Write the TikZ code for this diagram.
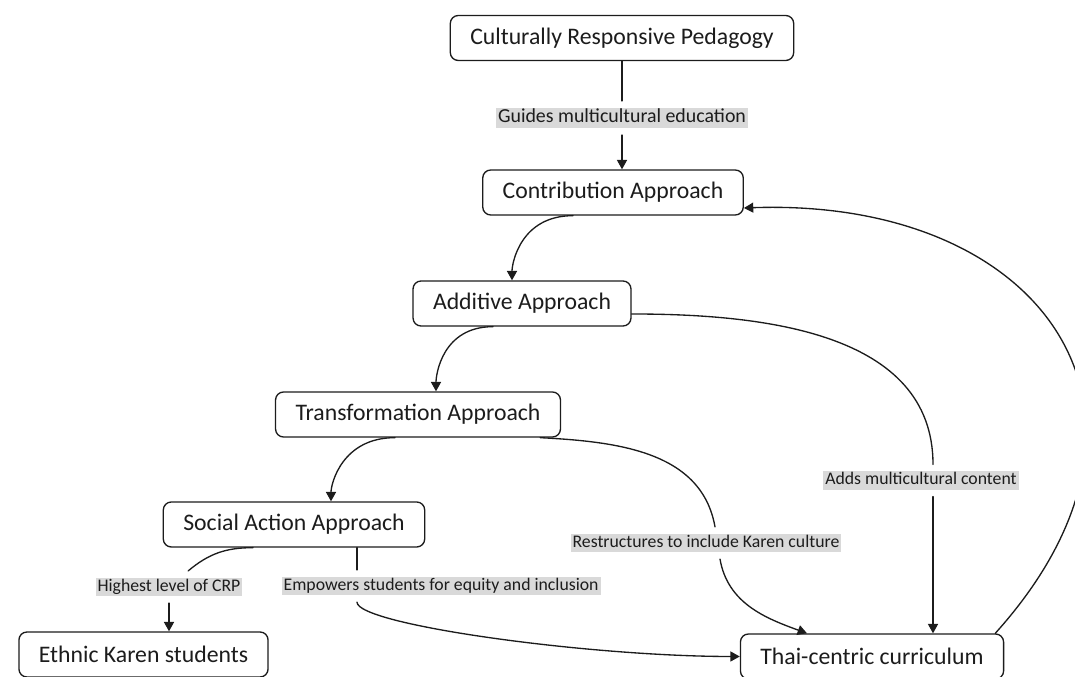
\documentclass[tikz,border=0pt]{standalone}
\usepackage{fontspec}
\setmainfont{Carlito}
\usetikzlibrary{arrows.meta,calc,positioning}
\definecolor{TagGray}{HTML}{D9D9D9}
\definecolor{Ink}{HTML}{1C1C1C}

\begin{document}
\begin{tikzpicture}[x=0.75pt,y=0.75pt,line cap=round,line join=round,
    box/.style={draw=Ink,line width=1pt,rounded corners=6pt,fill=white,
      minimum height=33.75pt,inner xsep=15pt,text=Ink,
      font=\fontsize{17.8}{20}\selectfont},
    tag/.style={fill=TagGray,inner xsep=1.5pt,inner ysep=1pt,outer sep=5pt,
      text height=9.3pt,text depth=2.9pt,text=Ink,
      font=\fontsize{13.3}{15}\selectfont},
    link/.style={draw=Ink,line width=1pt},
    arr/.style={link,-{Triangle[length=7pt,width=7.5pt]}}]
  \useasboundingbox (0,0) rectangle (1075,677);
  \node[box] (crp) at (622,639) {Culturally Responsive Pedagogy};
  \node[tag,text height=10.4pt,text depth=3.2pt,
        font=\fontsize{14.9}{17}\selectfont] (lguide) at (622,559)
        {Guides multicultural education};
  \node[box] (contrib) at (613,484.5) {Contribution Approach};
  \node[box] (add) at (522,373.5) {Additive Approach};
  \node[box] (trans) at (418,262.5) {Transformation Approach};
  \node[box] (social) at (294,152.5) {Social Action Approach};
  \node[box] (ethnic) at (143.5,22.5) {Ethnic Karen students};
  \node[box] (thai) at (872,20.5) {Thai-centric curriculum};
  \node[tag] (lhigh) at (169,90) {Highest level of CRP};
  \node[tag,anchor=west] (lemp) at (275,91) {Empowers students for equity and inclusion};
  \node[tag] (lrest) at (706,134) {Restructures to include Karen culture};
  \node[tag] (ladds) at (921,196.5) {Adds multicultural content};

  \draw[link] (crp.south) -- (crp.south |- lguide.north);
  \draw[arr] (lguide.south) -- (lguide.south |- contrib.north);
  \draw[arr] ($(contrib.south)+(-40,0)$)
    to[out=180,in=90,out looseness=1.5,in looseness=0.5] ($(add.north)+(-10,0)$);
  \draw[arr] ($(add.south)+(-29,0)$)
    to[out=180,in=90,out looseness=1.5,in looseness=0.5] ($(trans.north)+(18,0)$);
  \draw[arr] ($(trans.south)+(-23,0)$)
    to[out=180,in=90,out looseness=1.5,in looseness=0.5] ($(social.north)+(37,0)$);
  \draw[link] ($(social.south)+(-41,0)$) to[out=180,in=40] (lhigh);
  \draw[arr] (lhigh.south) -- (lhigh.south |- ethnic.north);
  \draw[link] ($(social.south)+(63,0)$) coordinate (semp) -- (semp |- lemp.north);
  \draw[arr] (semp |- lemp.south)
    to[out=-90,in=180,out looseness=0.15] (thai.west);
  \draw[link] ($(trans.south east)+(-21,0)$) to[out=-3,in=100] ($(lrest.north)+(9,0)$);
  \draw[arr] ($(lrest.south)+(14,0)$) to[out=-80,in=160] ($(thai.north)+(-65,0)$);
  \draw[link] ($(add.east)+(0,-10.5)$) to[out=0,in=90] ($(ladds.north)+(12,0)$);
  \draw[arr] ($(ladds.south)+(12,0)$) coordinate (sadd) -- (sadd |- thai.north);
  \draw[arr] ($(thai.north east)+(-9,0)$)
    to[out=48,in=2,looseness=1.55] ($(contrib.east)+(0,-15.5)$);
\end{tikzpicture}
\end{document}
